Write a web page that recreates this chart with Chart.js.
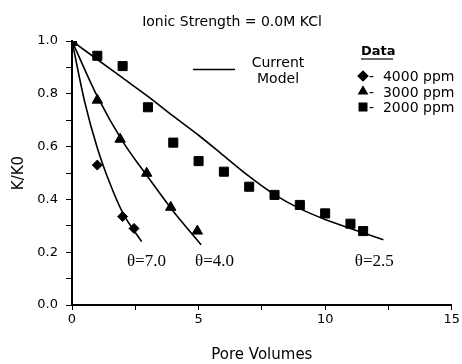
<!DOCTYPE html>
<html>
<head>
<meta charset="utf-8">
<script src="https://cdn.jsdelivr.net/npm/chart.js@4/dist/chart.umd.min.js"></script>
<style>
  html, body { margin: 0; padding: 0; background: #fff; }
  #wrap { width: 462px; height: 364px; position: relative; }
</style>
</head>
<body>
<div id="wrap"><canvas id="chart"></canvas></div>
<script>
const x4000 = [0, 1, 2, 2.45];
const y4000 = [1.0, 0.53, 0.335, 0.29];
const x3000 = [0, 1, 1.9, 2.95, 3.9, 4.95];
const y3000 = [1.0, 0.776, 0.628, 0.499, 0.37, 0.28];
const x2000 = [0, 1, 2, 3, 4, 5, 6, 7, 8, 9, 10, 11, 11.5];
const y2000 = [1.0, 0.944, 0.905, 0.749, 0.615, 0.545, 0.505, 0.448, 0.417, 0.379, 0.347, 0.308, 0.28];

// model curves
const xModel7 = [0, 0.5, 1, 1.5, 2, 2.75];
const yModel7 = [1.0, 0.77, 0.595, 0.46, 0.35, 0.24];
const xModel4 = [0, 1, 2, 3, 4, 5.1];
const yModel4 = [1.0, 0.79, 0.62, 0.485, 0.355, 0.228];
const xModel25 = [0, 1, 2, 3, 4, 5, 6, 7, 8, 9, 10, 11, 12.3];
const yModel25 = [1.0, 0.93, 0.86, 0.79, 0.715, 0.643, 0.565, 0.487, 0.418, 0.365, 0.324, 0.29, 0.247];

const thetaLabels = ['\u03B8=7.0', '\u03B8=4.0', '\u03B8=2.5'];
const thetaX = [2.17, 4.86, 11.17];
const thetaY = 0.148;

const legendLabels = ['4000 ppm', '3000 ppm', '2000 ppm'];
const legendShapes = ['rectRot', 'triangle', 'rect'];

const titleText = 'Ionic Strength = 0.0M KCl';
const sans = '"DejaVu Sans", Arial, sans-serif';

function pts(xs, ys) {
    return xs.map((x, i) => ({ x: x, y: ys[i] }));
}

function modelSet(xs, ys) {
    return {
        data: pts(xs, ys),
        showLine: true,
        borderColor: '#000',
        borderWidth: 1.6,
        pointRadius: 0,
        cubicInterpolationMode: 'monotone',
        order: 2
    };
}

function dataSet(xs, ys, shape, r) {
    return {
        data: pts(xs, ys),
        showLine: false,
        pointStyle: shape,
        pointRadius: r,
        backgroundColor: '#000',
        borderColor: '#000',
        borderWidth: 1,
        order: 1
    };
}

// title, legend and theta labels
const annotations = {
    id: 'annotations',
    afterDraw(chart) {
        const ctx = chart.ctx;
        const xs = chart.scales.x;
        const ys = chart.scales.y;
        ctx.save();
        ctx.fillStyle = '#000';
        ctx.strokeStyle = '#000';

        ctx.font = '14px ' + sans;
        ctx.textAlign = 'center';
        ctx.textBaseline = 'alphabetic';
        ctx.fillText(titleText, 232, 26);

        // "Current Model" legend
        ctx.lineWidth = 1.6;
        ctx.beginPath();
        ctx.moveTo(193, 69.5);
        ctx.lineTo(235, 69.5);
        ctx.stroke();
        ctx.fillText('Current', 278, 67);
        ctx.fillText('Model', 278, 83);

        // Data legend
        ctx.textAlign = 'left';
        ctx.font = 'bold 13px ' + sans;
        ctx.fillText('Data', 361, 55);
        ctx.lineWidth = 1.2;
        ctx.beginPath();
        ctx.moveTo(361, 59);
        ctx.lineTo(393, 59);
        ctx.stroke();

        ctx.font = '14px ' + sans;
        legendLabels.forEach((lab, i) => {
            const cy = 76 + i * 15.5;
            Chart.helpers.drawPoint(ctx, { pointStyle: legendShapes[i], radius: i === 2 ? 5.5 : 5, borderWidth: 1 }, 363, cy);
            ctx.fill();
            ctx.fillText('-  ' + lab, 369, cy + 5);
        });

        // theta labels
        ctx.font = '17px "Liberation Serif", "Times New Roman", serif';
        thetaLabels.forEach((lab, i) => {
            ctx.fillText(lab, xs.getPixelForValue(thetaX[i]), ys.getPixelForValue(thetaY));
        });
        ctx.restore();
    }
};

new Chart(document.getElementById('chart'), {
    type: 'scatter',
    data: {
        datasets: [
            modelSet(xModel7, yModel7),
            modelSet(xModel4, yModel4),
            modelSet(xModel25, yModel25),
            dataSet(x4000, y4000, 'rectRot', 5),
            dataSet(x3000, y3000, 'triangle', 6),
            dataSet(x2000, y2000, 'rect', 6.4)
        ]
    },
    options: {
        responsive: true,
        maintainAspectRatio: false,
        animation: false,
        layout: { padding: { top: 41, right: 10, left: 0, bottom: 0 } },
        plugins: {
            legend: { display: false },
            tooltip: { enabled: false }
        },
        scales: {
            x: {
                type: 'linear',
                min: 0,
                max: 15,
                afterFit: (s) => { s.height = 59; },
                border: { display: true, color: '#000', width: 2 },
                grid: { drawOnChartArea: false, color: '#000', tickLength: 5 },
                ticks: {
                    stepSize: 2.5,
                    padding: 2,
                    color: '#000',
                    font: { family: sans, size: 13 },
                    maxRotation: 0,
                    callback: (v) => (v % 5 === 0 ? String(v) : '')
                },
                title: {
                    display: true,
                    text: 'Pore Volumes',
                    color: '#000',
                    font: { family: sans, size: 15 },
                    padding: { top: 0, bottom: 0 }
                }
            },
            y: {
                type: 'linear',
                min: 0,
                max: 1,
                afterFit: (s) => { s.width = 72; },
                border: { display: true, color: '#000', width: 2 },
                grid: { drawOnChartArea: false, color: '#000', tickLength: 6 },
                ticks: {
                    stepSize: 0.1,
                    padding: 8,
                    color: '#000',
                    font: { family: sans, size: 13 },
                    callback: (v) => (Math.round(v * 10) % 2 === 0 ? v.toFixed(1) : '')
                },
                title: {
                    display: true,
                    text: 'K/K0',
                    color: '#000',
                    font: { family: sans, size: 15 },
                    padding: { top: 10, bottom: 0 }
                }
            }
        }
    },
    plugins: [annotations]
});
</script>
</body>
</html>
